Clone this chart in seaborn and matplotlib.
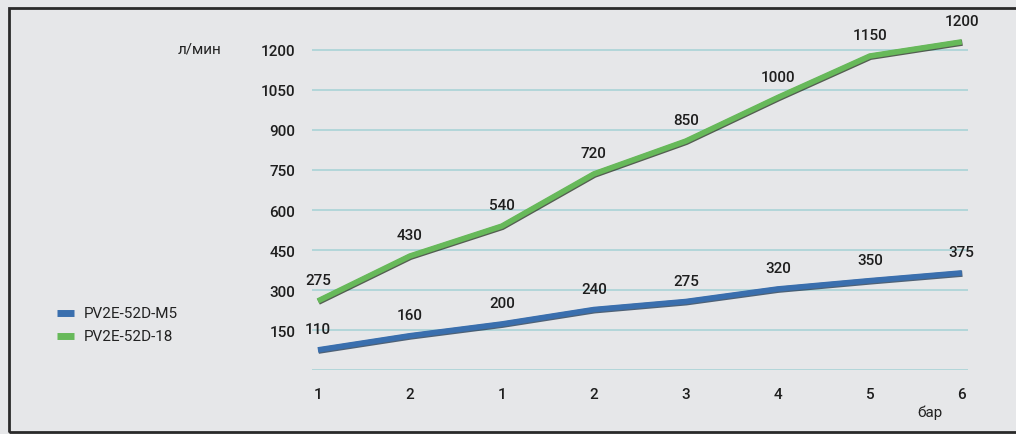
import numpy as np
import pandas as pd
import matplotlib
matplotlib.use("Agg")
import matplotlib.pyplot as plt
import matplotlib.patheffects as pe
from matplotlib.patches import Rectangle
import seaborn as sns

# Data
x_labels = ["1", "2", "1", "2", "3", "4", "5", "6"]
series_names = ["PV2E-52D-M5", "PV2E-52D-18"]
m5_flow = [77, 130, 174, 228, 258, 305, 336, 365]
d18_flow = [260, 428, 540, 735, 858, 1021, 1176, 1229]
m5_labels = [110, 160, 200, 240, 275, 320, 350, 375]
d18_labels = [275, 430, 540, 720, 850, 1000, 1150, 1200]
y_ticks = [0, 150, 300, 450, 600, 750, 900, 1050, 1200]

bg = "#e6e7e9"
colors = {"PV2E-52D-M5": "#3a6fae", "PV2E-52D-18": "#67b95a"}
shadow = {"PV2E-52D-M5": "#1d3550", "PV2E-52D-18": "#24301f"}

pos = np.arange(len(x_labels))
df = pd.DataFrame({
    "pos": np.concatenate([pos, pos]),
    "flow": m5_flow + d18_flow,
    "series": [series_names[0]] * len(pos) + [series_names[1]] * len(pos),
})

sns.set_style("white")
plt.rcParams["font.family"] = ["Roboto", "DejaVu Sans"]

fig = plt.figure(figsize=(10.16, 4.35), dpi=100, facecolor=bg)
ax = fig.add_axes([0.307, 0.146, 0.646, 0.793])
ax.set_facecolor(bg)

sns.lineplot(data=df, x="pos", y="flow", hue="series", palette=colors,
             linewidth=4, ax=ax, legend=False, zorder=3)
for line, name in zip(ax.get_lines(), series_names):
    line.set_solid_capstyle("butt")
    line.set_path_effects([pe.Stroke(linewidth=4.5, foreground=shadow[name],
                                     offset=(0.4, -0.6), alpha=0.75),
                           pe.Normal()])

# value labels above each point
for vals, labs in ((m5_flow, m5_labels), (d18_flow, d18_labels)):
    for xi, v, lab in zip(pos, vals, labs):
        ax.annotate(str(lab), (xi, v), xytext=(0, 15), textcoords="offset points",
                    ha="center", va="center", fontsize=11, fontweight="medium",
                    color="#1e1e1e", zorder=4)

ax.set_xlim(-0.065, 7.07)
ax.set_ylim(0, 1290)
ax.set_xticks(pos)
ax.set_xticklabels(x_labels)
ax.set_yticks(y_ticks)
ax.set_yticklabels([""] + [str(t) for t in y_ticks[1:]])
ax.tick_params(axis="both", length=0, labelsize=11, colors="#1e1e1e")
ax.tick_params(axis="y", pad=12)
ax.tick_params(axis="x", pad=12)
for t in ax.get_xticklabels() + ax.get_yticklabels():
    t.set_fontweight("medium")
ax.yaxis.grid(True, color="#a9d3d6", linewidth=1.2)
ax.xaxis.grid(False)
for s in ax.spines.values():
    s.set_visible(False)
ax.set_xlabel("")
ax.set_ylabel("")

fig.text(200 / 1016, 1 - 50 / 435, "л/мин", ha="center", va="center",
         fontsize=11, color="#222222")
fig.text(930 / 1016, 1 - 413 / 435, "бар", ha="center", va="center",
         fontsize=11, color="#222222")

# legend
for i, name in enumerate(series_names):
    yy = 1 - (314 + i * 23) / 435
    fig.add_artist(plt.Line2D([57 / 1016, 74 / 1016], [yy, yy], color=colors[name],
                              linewidth=5, solid_capstyle="butt"))
    fig.text(84 / 1016, yy, name, ha="left", va="center", fontsize=11,
             color="#222222")

# outer frame
fig.add_artist(Rectangle((9 / 1016, 2 / 435), 1.1, 1 - 11 / 435, transform=fig.transFigure,
                         fill=False, edgecolor="#2a2a2a", linewidth=2, clip_on=False))

fig.savefig("out.png", dpi=100, facecolor=bg)
